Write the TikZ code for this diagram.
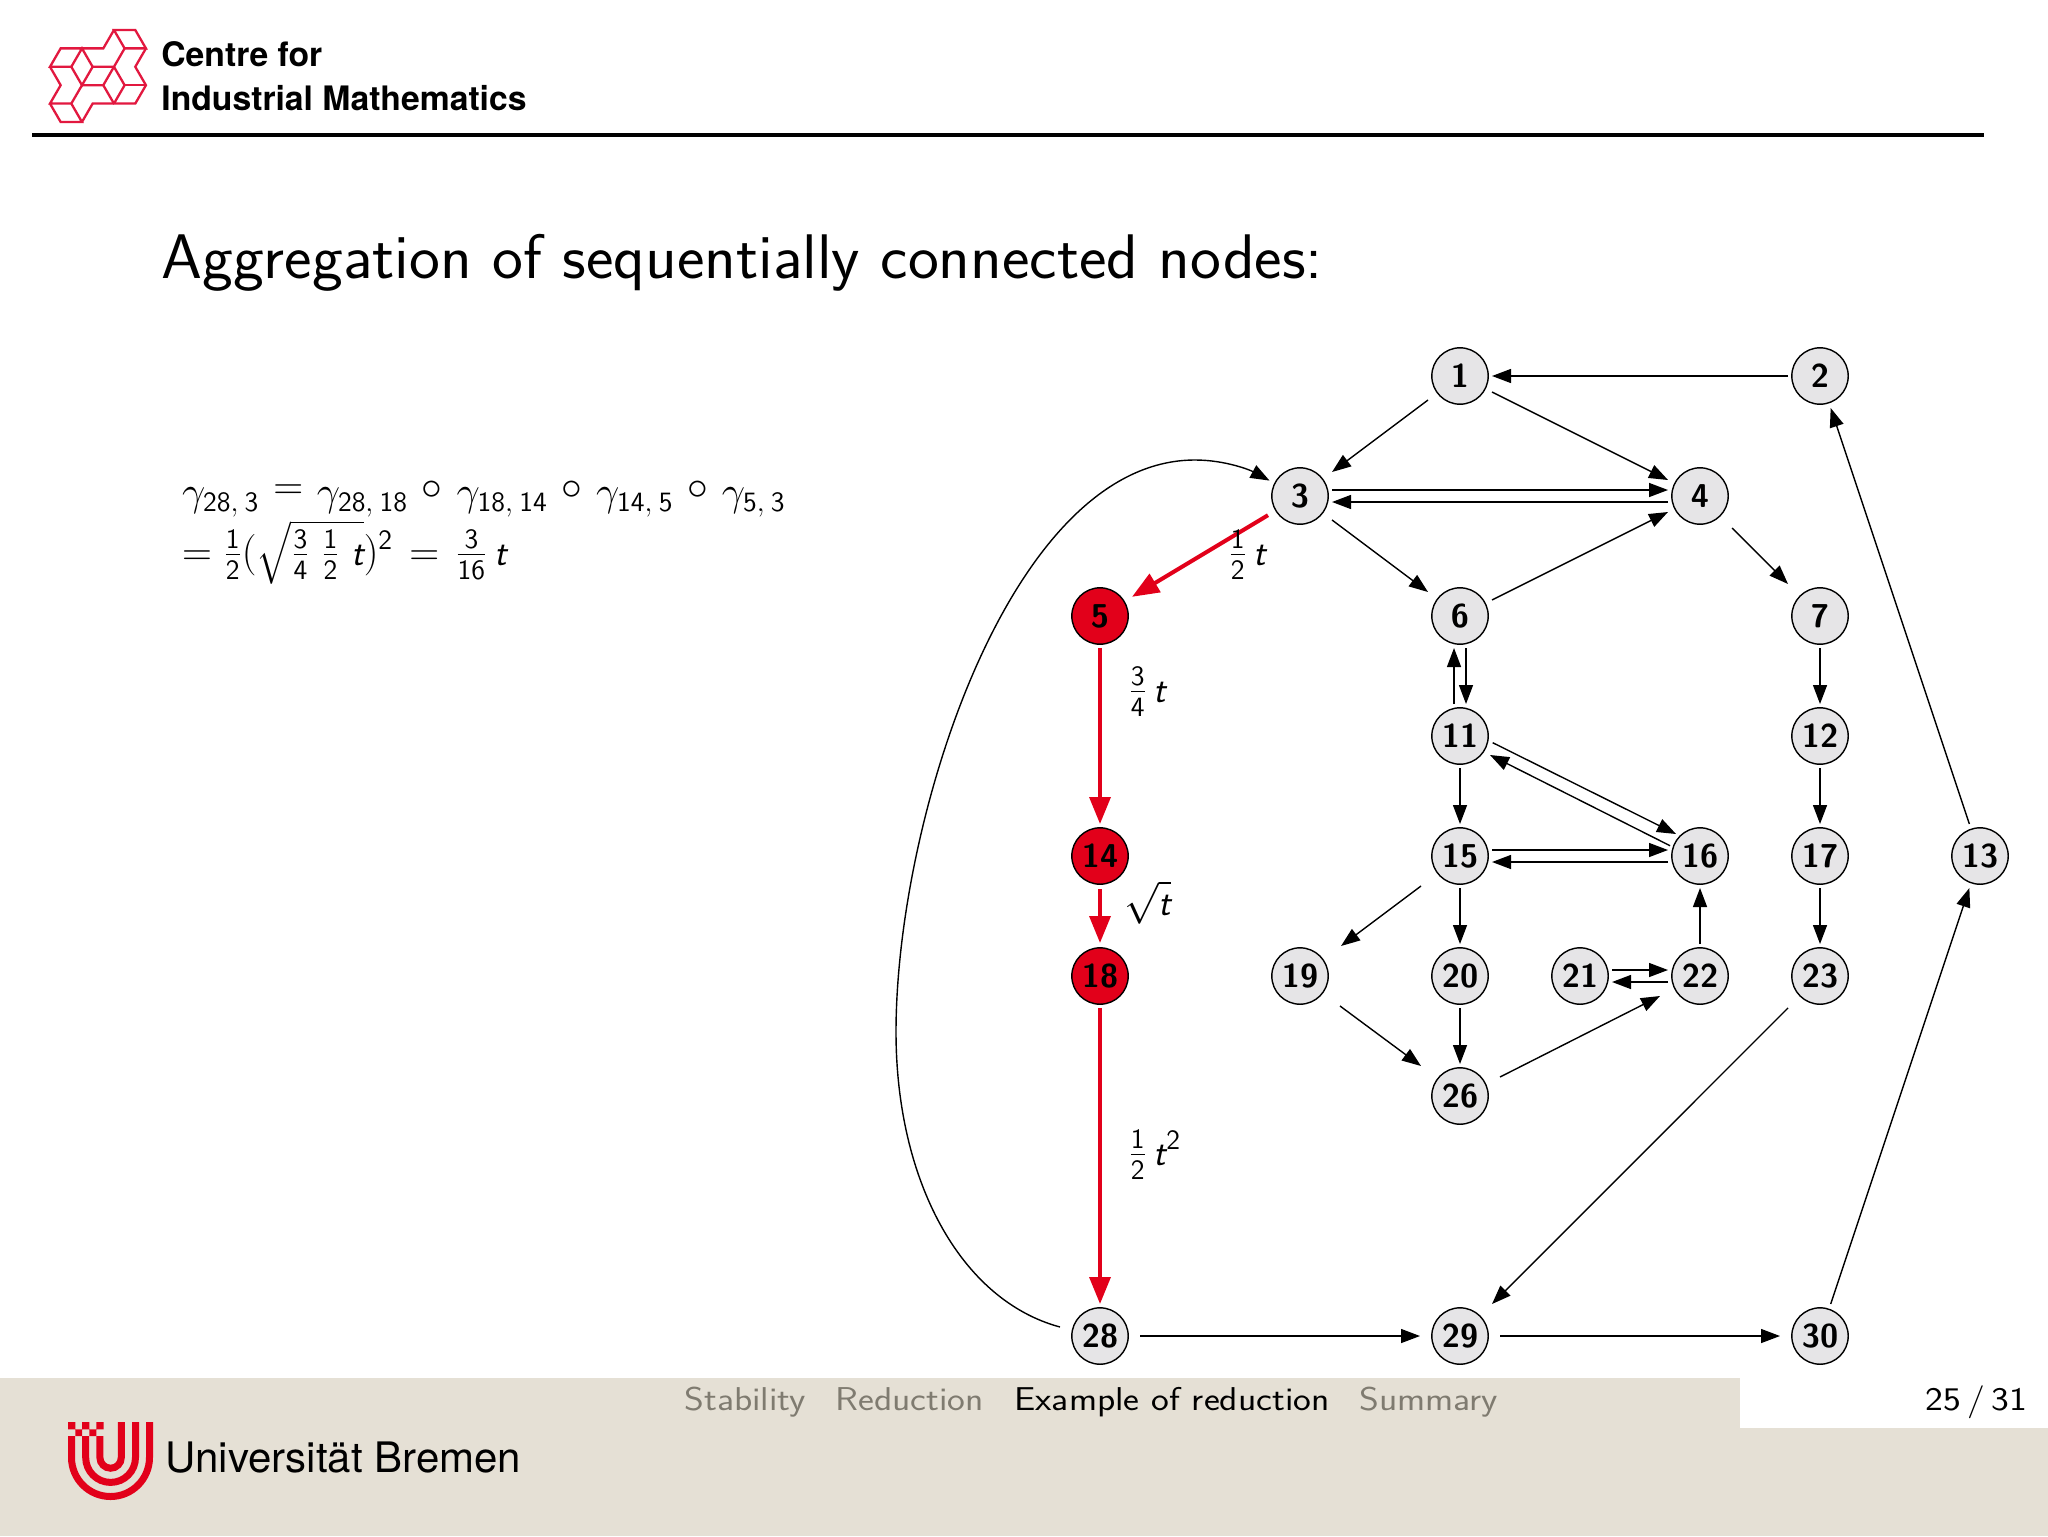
\documentclass[tikz,border=0pt]{standalone}
\usepackage{amsmath}
\usepackage{graphicx}
\usepackage{fontspec}
\newfontfamily\heros{TeX Gyre Heros}
\usetikzlibrary{arrows.meta}
\definecolor{ured}{HTML}{E2001A}
\definecolor{lred}{HTML}{E2183F}
\definecolor{vfill}{HTML}{E6E5E7}
\definecolor{beige}{HTML}{E5E0D5}
\definecolor{navgrey}{HTML}{7F7B70}
\newcommand{\tv}{\mbox{\scalebox{.92}{\sffamily\slshape t}}}
\newcommand{\sn}[1]{\mathsf{#1}}
\newcommand{\fr}[2]{\tfrac{\sn{#1}}{\sn{#2}}}
\newcommand{\gam}[2]{\gamma_{\sn{#1},\mskip4mu\sn{#2}}}
\newcommand{\hi}[1]{\mskip2mu\mathbin{\raisebox{3pt}{$#1$}}\mskip2mu}
\newcommand{\smallroot}[1]{\mbox{\fontsize{16.5pt}{20pt}\selectfont$\sqrt{\mbox{\fontsize{20pt}{24pt}\selectfont$#1$}}$}}
\tikzset{
  vbase/.style={rectangle,minimum size=32pt,inner sep=0pt,outer sep=0pt,
    font=\fontsize{16.5pt}{18pt}\selectfont\sffamily\bfseries},
  vertex/.style={vbase,path picture={\draw[line width=.7pt,fill=vfill] (path picture bounding box.center) circle[radius=14.1pt];}},
  hot/.style={vbase,path picture={\draw[line width=.7pt,fill=ured] (path picture bounding box.center) circle[radius=14.1pt];}},
  edge/.style={line width=.7pt,-{Triangle[length=9.5pt,width=7pt]}},
  redge/.style={ured,line width=2pt,-{Triangle[length=13.5pt,width=10.4pt]}},
  lbl/.style={anchor=base west,inner sep=0pt,font=\fontsize{20pt}{24pt}\selectfont\sffamily},
  nav/.style={anchor=base west,inner sep=0pt,xscale=1.145,transform shape,font=\fontsize{16.5pt}{18pt}\selectfont\sffamily},
  logoline/.style={lred,line width=1.15pt,line join=miter},
  ubar/.style={ured,line width=3.5pt}
}
\begin{document}
\begin{tikzpicture}[x=0.5pt,y=-0.5pt]
\useasboundingbox (0,0) rectangle (2048,1536);
\fill[white] (0,0) rectangle (2048,1536);
% footer
\fill[beige] (0,1378) rectangle (2048,1536);
\fill[white] (1740,1378) rectangle (2048,1427.5);
% header
\draw[line width=1.8pt] (32,135) -- (1984,135);
\begin{scope}[shift={(50,30)},x=5.33pt,y=-9.2pt,logoline]
 \draw (6,0)--(8,0)--(9,1)--(7,1)--cycle;
 \draw (6,0)--(5,1)--(1,1)--(0,2)--(2,2)--(3,1)--(4,2)--(3,3)--(2,2);
 \draw (4,2)--(6,2)--(7,1);
 \draw (0,2)--(1,3)--(0,4)--(2,4)--(3,5)--(1,5)--(0,4);
 \draw (2,4)--(3,3)--(5,3)--(6,4)--(8,4)--(9,3)--(8,2)--(9,1);
 \draw (6,2)--(5,3);
 \draw (6,2)--(7,3)--(6,4);
 \draw (7,3)--(9,3);
 \draw (3,5)--(4,4)--(6,4);
\end{scope}
\node[anchor=base west,inner sep=0pt,font=\fontsize{16.85pt}{20pt}\selectfont\heros\bfseries] (hdra) at (161,67) {Centre for};
\node[anchor=base west,inner sep=0pt,font=\fontsize{16.85pt}{20pt}\selectfont\heros\bfseries] (hdrb) at (161,111) {Industrial Mathematics};
% title
\node[anchor=base west,inner sep=0pt,xscale=1.04,transform shape,font=\fontsize{31.5pt}{36pt}\selectfont\sffamily] (title) at (161,278) {Aggregation of sequentially connected nodes:};
% formula
\node[lbl] (fa) at (181.6,505) {$\gam{28}{3}\hi{=}\gam{28}{18}\hi{\circ}\gam{18}{14}\hi{\circ}\gam{14}{5}\hi{\circ}\gam{5}{3}$};
\node[lbl] (fb) at (181.6,565) {$=\fr12(\smallroot{\fr34\;\fr12\;\tv})^{\sn 2}\mskip2mu=\mskip2mu\fr3{16}\,\tv$};
% vertices
\node[vertex] (n1) at (1460,376) {1};
\node[vertex] (n2) at (1820,376) {2};
\node[vertex] (n3) at (1300,496) {3};
\node[vertex] (n4) at (1700,496) {4};
\node[hot] (n5) at (1100,616) {5};
\node[vertex] (n6) at (1460,616) {6};
\node[vertex] (n7) at (1820,616) {7};
\node[vertex] (n11) at (1460,736) {11};
\node[vertex] (n12) at (1820,736) {12};
\node[vertex] (n13) at (1980,856) {13};
\node[hot] (n14) at (1100,856) {14};
\node[vertex] (n15) at (1460,856) {15};
\node[vertex] (n16) at (1700,856) {16};
\node[vertex] (n17) at (1820,856) {17};
\node[hot] (n18) at (1100,976) {18};
\node[vertex] (n19) at (1300,976) {19};
\node[vertex] (n20) at (1460,976) {20};
\node[vertex] (n21) at (1580,976) {21};
\node[vertex] (n22) at (1700,976) {22};
\node[vertex] (n23) at (1820,976) {23};
\node[vertex] (n26) at (1460,1096) {26};
\node[vertex] (n28) at (1100,1336) {28};
\node[vertex] (n29) at (1460,1336) {29};
\node[vertex] (n30) at (1820,1336) {30};
% edges
\draw[edge] (n2) -- (n1);
\draw[edge] (n1) -- (n3);
\draw[edge] (n1) -- (n4);
\draw[edge] ([shift={(0,-6)}]n3.east) -- ([shift={(0,-6)}]n4.west);
\draw[edge] ([shift={(0,6)}]n4.west) -- ([shift={(0,6)}]n3.east);
\draw[edge] (n3) -- (n6);
\draw[edge] (n6) -- (n4);
\draw[edge] (n4) -- (n7);
\draw[edge] ([shift={(-6,0)}]n11.north) -- ([shift={(-6,0)}]n6.south);
\draw[edge] ([shift={(6,0)}]n6.south) -- ([shift={(6,0)}]n11.north);
\draw[edge] (n7) -- (n12);
\draw[edge] (n12) -- (n17);
\draw[edge] (n17) -- (n23);
\draw[edge] (n11) -- (n15);
\draw[edge] ([shift={(32.7,6.7)}]n11.center) -- ([shift={(-24,-22)}]n16.center);
\draw[edge] ([shift={(-30,-10.3)}]n16.center) -- ([shift={(30,19)}]n11.center);
\draw[edge] ([shift={(0,-6)}]n15.east) -- ([shift={(0,-6)}]n16.west);
\draw[edge] ([shift={(0,6)}]n16.west) -- ([shift={(0,6)}]n15.east);
\draw[edge] ([shift={(-39,30)}]n15.center) -- ([shift={(41,-30)}]n19.center);
\draw[edge] (n15) -- (n20);
\draw[edge] ([shift={(40,30)}]n19.center) -- ([shift={(-39,-30)}]n26.center);
\draw[edge] (n20) -- (n26);
\draw[edge] ([shift={(40,-19)}]n26.center) -- ([shift={(-40,20)}]n22.center);
\draw[edge] (n22) -- (n16);
\draw[edge] ([shift={(0,-6)}]n21.east) -- ([shift={(0,-6)}]n22.west);
\draw[edge] ([shift={(0,6)}]n22.west) -- ([shift={(0,6)}]n21.east);
\draw[edge] (n23) -- (n29);
\draw[edge] ([shift={(40,0)}]n28.center) -- ([shift={(-40,0)}]n29.center);
\draw[edge] ([shift={(40,0)}]n29.center) -- ([shift={(-40,0)}]n30.center);
\draw[edge] (n30) -- (n13);
\draw[edge] (n13) -- (n2);
\draw[edge] ([shift={(-40,-9)}]n28.center) .. controls (960,1300) and (896,1180) .. (896,1032)
   .. controls (896,820) and (1010,460) .. (1195,460)
   .. controls (1225,460) and (1250,470) .. ([shift={(-30.5,-15.4)}]n3.center);
\draw[redge] (n3) -- (n5);
\draw[redge] (n5) -- (n14);
\draw[redge] ([shift={(0,33)}]n14.center) -- ([shift={(0,-33)}]n18.center);
\draw[redge] (n18) -- (n28);
% edge labels
\node[lbl] (la) at (1228,565) {$\fr12\,\tv$};
\node[lbl] (lb) at (1128,702) {$\fr34\,\tv$};
\node[lbl] (lc) at (1124,915) {$\sqrt{\tv}$};
\node[lbl] (ld) at (1128,1165) {$\fr12\,\tv^{\sn 2}$};
% footer logo
\begin{scope}[ubar]
 \draw (149.5,1422) -- (149.5,1457.5) arc[start angle=0,end angle=180,radius=39] -- (71.5,1436);
 \draw (135.5,1422) -- (135.5,1457.5) arc[start angle=0,end angle=180,radius=24.9] -- (85.7,1436);
 \draw (121.3,1422) -- (121.3,1457.5) arc[start angle=0,end angle=180,radius=10.7] -- (99.9,1436);
\end{scope}
\fill[ured] (68,1422) rectangle (75.3,1429.3) (82.2,1422) rectangle (89.4,1429.3) (96.4,1422) rectangle (103.6,1429.3)
 (75.3,1429.3) rectangle (82.2,1436) (89.4,1429.3) rectangle (96.4,1436);
\node[anchor=base west,inner sep=0pt,font=\fontsize{21pt}{24pt}\selectfont\heros] (ub) at (165,1472) {Universität Bremen};
% nav
\node[nav,text=navgrey] (na) at (684,1410) {Stability};
\node[nav,text=navgrey] (nb) at (835,1410) {Reduction};
\node[nav] (nc) at (1014,1410) {Example of reduction};
\node[nav,text=navgrey] (nd) at (1359,1410) {Summary};
\node[nav] (pg) at (1925,1410) {25\,/\,31};
\end{tikzpicture}
\end{document}
